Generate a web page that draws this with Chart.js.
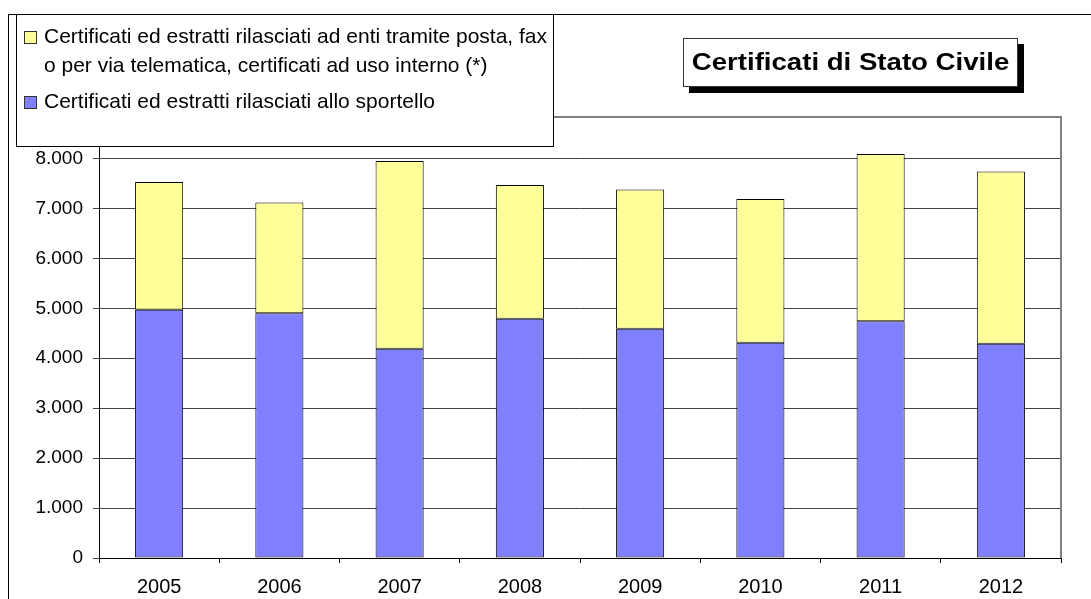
<!DOCTYPE html>
<html>
<head>
<meta charset="utf-8">
<script src="https://cdn.jsdelivr.net/npm/chart.js@4.4.1/dist/chart.umd.min.js"></script>
<style>
  body { margin: 0; background: #fff; font-family: Arial, "Liberation Sans", sans-serif; }
  #wrap { position: relative; width: 1091px; height: 599px; overflow: hidden; }
  canvas { position: absolute; left: 0; top: 0; }
  .frame { position: absolute; left: 8px; top: 14px; width: 1200px; height: 700px;
           border-left: 1px solid #000; border-top: 1px solid #000; }
  .legend { position: absolute; left: 16px; top: 14px; width: 536px; height: 131px;
            background: #fff; border: 1px solid #000; }
  .leg-item { position: absolute; left: 27px; width: 514px; font-size: 21px; line-height: 28.5px; color: #000; }
  .leg-box { position: absolute; left: 7px; width: 11px; height: 11px; border: 1px solid #333; }
  .title { position: absolute; left: 683px; top: 38px; width: 333px; height: 47px;
           border: 1px solid #333; background: #fff; box-shadow: 6px 6px 0 #000; }
  .title span { position: absolute; left: 0; right: 0; top: 9px; text-align: center;
                font-weight: bold; font-size: 24px; transform: scaleX(1.15); }
</style>
</head>
<body>
<div id="wrap">
  <div class="frame"></div>
  <canvas id="chart" width="1091" height="599"></canvas>
  <div class="legend" id="legend"></div>
  <div class="title"><span id="title"></span></div>
</div>
<script>
const years = ['2005', '2006', '2007', '2008', '2009', '2010', '2011', '2012'];
const sportello = [4970, 4900, 4190, 4790, 4590, 4310, 4740, 4290];
const postaFax = [2560, 2220, 3760, 2680, 2790, 2880, 3350, 3450];
const labelSportello = 'Certificati ed estratti rilasciati allo sportello';
const labelPosta = 'Certificati ed estratti rilasciati ad enti tramite posta, fax o per via telematica, certificati ad uso interno (*)';
const titleText = 'Certificati di Stato Civile';
const yTicks = [0, 1000, 2000, 3000, 4000, 5000, 6000, 7000, 8000];

const blue = '#8080FF';
const yellow = '#FFFF99';

document.getElementById('title').textContent = titleText;

// legend (yellow first, like the original)
const legend = document.getElementById('legend');
[[labelPosta, yellow, 7], [labelSportello, blue, 72]].forEach(([txt, col, top]) => {
  const item = document.createElement('div');
  item.className = 'leg-item';
  item.style.top = top + 'px';
  item.textContent = txt;
  legend.appendChild(item);
  const box = document.createElement('div');
  box.className = 'leg-box';
  box.style.background = col;
  box.style.top = (top + 9) + 'px';
  legend.appendChild(box);
});

const fmt = v => String(v).replace(/\B(?=(\d{3})+(?!\d))/g, '.');

// gray border on top and right of the plot area
const plotFrame = {
  id: 'plotFrame',
  beforeDatasetsDraw(chart) {
    const a = chart.chartArea, c = chart.ctx;
    c.save();
    c.strokeStyle = '#808080';
    c.lineWidth = 2;
    c.beginPath();
    c.moveTo(a.left, a.top);
    c.lineTo(a.right, a.top);
    c.lineTo(a.right, a.bottom);
    c.stroke();
    c.restore();
  }
};

new Chart(document.getElementById('chart'), {
  type: 'bar',
  data: {
    labels: years,
    datasets: [{
      label: labelSportello,
      data: sportello,
      backgroundColor: blue,
      borderColor: '#000',
      borderWidth: 1,
      borderSkipped: false
    }, {
      label: labelPosta,
      data: postaFax,
      backgroundColor: yellow,
      borderColor: '#000',
      borderWidth: 1,
      borderSkipped: false
    }]
  },
  options: {
    responsive: false,
    animation: false,
    barPercentage: 0.4,
    categoryPercentage: 1.0,
    layout: { padding: { left: 0, right: 30, top: 117, bottom: 0 } },
    plugins: { legend: { display: false }, title: { display: false }, tooltip: { enabled: false } },
    scales: {
      x: {
        stacked: true,
        grid: { offset: true, drawOnChartArea: false, drawTicks: true, tickLength: 5, color: '#000' },
        border: { color: '#000' },
        ticks: { color: '#000', font: { family: 'Arial, "Liberation Sans"', size: 20 }, padding: 12, maxRotation: 0 },
        afterFit: s => { s.height = 41; }
      },
      y: {
        stacked: true,
        min: 0,
        max: 8830,
        grid: { color: '#444', tickLength: 6 },
        border: { color: '#000' },
        ticks: { color: '#000', font: { family: 'Arial, "Liberation Sans"', size: 19 }, padding: 10, stepSize: 1000,
                 callback: v => fmt(v) },
        afterBuildTicks: s => { s.ticks = yTicks.map(v => ({ value: v })); },
        afterFit: s => { s.width = 99; }
      }
    }
  },
  plugins: [plotFrame]
});
</script>
</body>
</html>
